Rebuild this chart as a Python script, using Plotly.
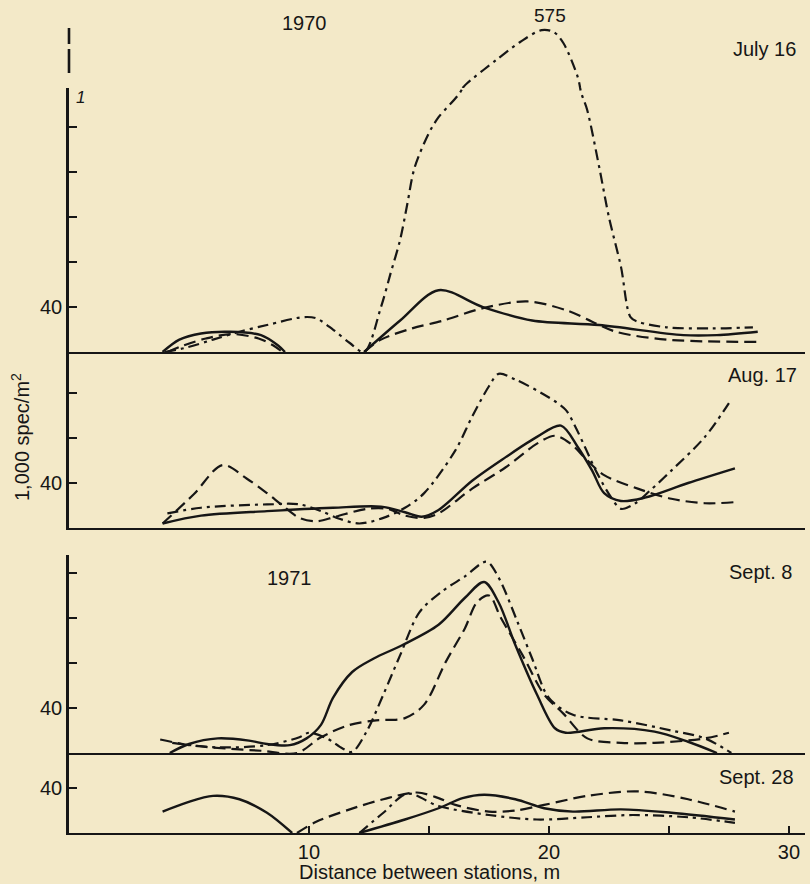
import plotly.graph_objects as go

FIG_W, FIG_H = 810, 884
PAPER = "#f3e9c8"
INK = "#161616"
FONT = "Liberation Sans, Arial, Helvetica, sans-serif"

# Distance between stations (m) against abundance (1,000 spec/m^2).
# None marks a break where a curve runs along the baseline.

# July 16, 1970
JUL16_SOLID_X = [3.9, 4.6, 5.5, 6.7, 8.0, 8.7, 9.0, None, 12.3, 13.8, 15.4, 17.25, 19.3, 22.1, 25.6, 27.0, 28.7]
JUL16_SOLID_Y = [0, 11, 16.5, 18, 15, 6, 0, None, 0, 28, 55, 40, 28, 24, 15, 15, 18]
JUL16_DASH_X = [4.1, 4.8, 5.7, 6.8, 7.9, 8.5, 8.9, None, 12.3, 13.0, 14.3, 15.6, 17.25, 19.1, 20.75, 21.8, 22.8, 24.9, 28.7]
JUL16_DASH_Y = [0, 6, 12, 16, 12, 6, 0, None, 0, 11, 21, 28, 39, 45, 37, 27, 18, 11, 9]
JUL16_DASHDOT_X = [4.0, 4.9, 6.0, 7.1, 8.25, 9.75, 10.3, 11.0, 11.7, 12.3, 13.0, 13.4, 13.8, 14.1, 14.4,
                   15.0, 15.4, 16.4, 16.6, 17.8, 18.8, 19.7, 20.2, 20.6, 21.2, 21.3, 21.6, 22.1, 22.5,
                   23.0, 23.4, 23.7, 24.9, 26.8, 28.5]
JUL16_DASHDOT_Y = [0, 4, 11, 18, 24, 31, 30, 20, 8, 0, 40, 70, 100, 132, 164,
                   195, 209, 235, 264, 399, 505, 575, 563, 499, 299, 235, 215, 164, 120,
                   76, 31, 27, 22, 21, 22]

# Aug. 17, 1970
AUG17_SOLID_X = [3.9, 5.5, 8.25, 11.0, 13.0, 14.0, 14.7, 15.4, 16.8, 18.2, 19.5, 20.5, 21.2, 21.8, 22.3, 23.0, 24.0, 25.8, 27.75]
AUG17_SOLID_Y = [4, 11, 15, 18, 19, 14, 10, 16, 42, 63, 81, 91, 72, 51, 31, 24, 27, 40, 53]
AUG17_DASH_X = [3.9, 5.2, 6.4, 7.4, 8.25, 8.9, 9.6, 10.3, 11.1, 12.4, 13.3, 14.0, 14.8, 15.4, 16.8, 18.2,
                19.5, 20.25, 20.9, 21.6, 22.3, 23.7, 25.1, 26.5, 27.75]
AUG17_DASH_Y = [4, 30, 56, 44, 31, 20, 9, 6, 10, 17, 17, 11, 9, 13, 35, 54,
                75, 82, 75, 60, 47, 35, 26, 22, 23]
AUG17_DASHDOT_X = [4.1, 5.5, 8.25, 9.6, 10.5, 11.3, 12.1, 13.1, 14.0, 14.8, 16.1, 16.8, 17.5, 17.9, 18.6,
                   20.0, 20.7, 21.1, 21.5, 22.0, 22.6, 23.0, 23.6, 24.2, 25.1, 26.5, 27.5]
AUG17_DASHDOT_Y = [13, 18, 21, 21, 15, 8, 4, 9, 18, 31, 69, 99, 126, 137, 132,
                   116, 105, 90, 72, 49, 27, 17, 22, 33, 51, 81, 111]

# Sept. 8, 1971
SEP08_SOLID_X = [4.2, 5.0, 6.2, 7.5, 8.25, 9.2, 9.9, 10.5, 11.0, 11.8, 12.7, 13.9, 15.4, 16.5, 17.3, 17.9,
                 18.6, 19.5, 20.25, 20.7, 22.3, 24.4, 25.8, 27.0]
SEP08_SOLID_Y = [0, 8, 13, 11, 8, 7, 13, 25, 49, 72, 84, 96, 114, 138, 152, 134,
                 96, 52, 22, 18, 22, 19, 10, 0]
SEP08_DASH_X = [3.8, 5.0, 6.5, 8.0, 9.5, 10.5, 11.7, 12.8, 14.0, 14.8, 15.7, 16.5, 17.0, 17.5, 18.0, 18.9,
                19.8, 20.6, 21.6, 23.0, 24.4, 26.5, 27.5]
SEP08_DASH_Y = [12, 7, 4, 2, 0, 14, 25, 29, 31, 43, 81, 111, 134, 140, 120, 87,
                52, 35, 13, 9, 9, 13, 18]
SEP08_DASHDOT_X = [4.3, 6.2, 8.25, 9.6, 10.0, 10.75, 11.4, 11.8, 12.4, 13.1, 13.8, 14.6, 15.5, 16.5, 17.4,
                   17.9, 18.7, 19.3, 20.0, 21.0, 23.0, 25.1, 26.5, 27.6]
SEP08_DASHDOT_Y = [9, 5, 7, 14, 18, 13, 4, 1, 19, 52, 87, 125, 143, 157, 170,
                   156, 116, 84, 49, 34, 29, 20, 13, 0]

# Sept. 28, 1971
SEP28_SOLID_X = [3.9, 4.9, 6.0, 7.1, 8.25, 9.3, None, 12.1, 14.0, 15.4, 16.4, 17.3, 18.6, 19.8, 21.0, 23.0, 25.1, 27.75]
SEP28_SOLID_Y = [19, 27, 33, 30, 18, 0, None, 0, 12, 22, 31, 34, 30, 22, 19, 21, 18, 12]
SEP28_DASH_X = [9.5, 10.3, 11.7, 13.1, 14.5, 15.4, 16.1, 17.5, 18.6, 19.8, 21.6, 23.7, 25.8, 27.75]
SEP28_DASH_Y = [0, 10, 21, 30, 36, 31, 25, 19, 20, 25, 33, 37, 30, 19]
SEP28_DASHDOT_X = [12.1, 13.1, 14.1, 15.4, 17.5, 19.5, 21.6, 23.5, 25.8, 27.75]
SEP28_DASHDOT_Y = [0, 18, 35, 24, 16, 12, 14, 16, 14, 9]

PANEL_LABELS = ["July 16", "Aug. 17", "Sept. 8", "Sept. 28"]
YEAR_LABELS = ["1970", "1971"]
X_MAJOR = [10, 20, 30]
X_MINOR = [15, 25]
Y_MAJOR = [40]

# July 16 axis: linear up to the break, compressed above it
BREAK_VALUE = 235
UPPER_TOP = 587

LINE_STYLES = {
    "solid": dict(dash="solid", width=2.4),
    "dash": dict(dash="12px,6px", width=2.2),
    "dashdot": dict(dash="11px,5px,3px,5px", width=2.2),
}


def px_y(p):
    return 1 - p / FIG_H


def curve(x, y, style, axis_id):
    return go.Scatter(
        x=x, y=y, mode="lines", connectgaps=False,
        line=dict(color=INK, shape="spline", smoothing=0.9, **LINE_STYLES[style]),
        xaxis="x" + axis_id, yaxis="y" + axis_id,
        hoverinfo="skip", showlegend=False,
    )


# part of the July 16 dash-dot curve lying above the scale break
above = [(x, y) for x, y in zip(JUL16_DASHDOT_X, JUL16_DASHDOT_Y) if y is not None and y >= BREAK_VALUE]
JUL16_UPPER_X = [p[0] for p in above]
JUL16_UPPER_Y = [p[1] for p in above]

fig = go.Figure()

# axis ids: "" Sept. 28, "2" Sept. 8, "3" Aug. 17, "4" July 16, "5" July 16 above the scale break
panels = [
    ("", [(SEP28_SOLID_X, SEP28_SOLID_Y, "solid"), (SEP28_DASH_X, SEP28_DASH_Y, "dash"), (SEP28_DASHDOT_X, SEP28_DASHDOT_Y, "dashdot")]),
    ("2", [(SEP08_SOLID_X, SEP08_SOLID_Y, "solid"), (SEP08_DASH_X, SEP08_DASH_Y, "dash"), (SEP08_DASHDOT_X, SEP08_DASHDOT_Y, "dashdot")]),
    ("3", [(AUG17_SOLID_X, AUG17_SOLID_Y, "solid"), (AUG17_DASH_X, AUG17_DASH_Y, "dash"), (AUG17_DASHDOT_X, AUG17_DASHDOT_Y, "dashdot")]),
    ("4", [(JUL16_SOLID_X, JUL16_SOLID_Y, "solid"), (JUL16_DASH_X, JUL16_DASH_Y, "dash"), (JUL16_DASHDOT_X, JUL16_DASHDOT_Y, "dashdot")]),
    ("5", [(JUL16_UPPER_X, JUL16_UPPER_Y, "dashdot")]),
]
for axis_id, series in panels:
    for x, y, style in series:
        fig.add_trace(curve(x, y, style, axis_id))

X_DOMAIN = [69 / FIG_W, 805 / FIG_W]
X_RANGE = [0, 30.67]
UNIT = 45 / 40  # pixels per 1,000 spec/m^2
TICKFONT = dict(family=FONT, size=20, color=INK)

# (axis id, top px, bottom px, y range top, unlabelled tick values)
layout_rows = [
    ("", 753, 833, 80 / UNIT, []),
    ("2", 555, 753, 198 / UNIT, [80, 120, 160]),
    ("3", 352, 528, 176 / UNIT, [80, 120]),
    ("4", 88, 352, BREAK_VALUE, [80, 120, 160, 200]),
]

axes = {}
for axis_id, top, bot, ytop, minor_vals in layout_rows:
    xa = dict(
        domain=X_DOMAIN, range=X_RANGE, anchor="y" + axis_id,
        showline=True, linewidth=2.2, linecolor=INK,
        showgrid=False, zeroline=False, ticks="", showticklabels=False,
        fixedrange=True,
    )
    if axis_id == "":
        xa.update(ticks="inside", ticklen=7, tickwidth=2, tickcolor=INK,
                  tickmode="array", tickvals=X_MAJOR, showticklabels=True, tickfont=TICKFONT,
                  minor=dict(tickmode="array", tickvals=X_MINOR, ticks="inside", ticklen=7,
                             tickwidth=2, tickcolor=INK, showgrid=False))
    ya = dict(
        domain=[px_y(bot), px_y(top)], range=[0, ytop],
        anchor="x" + axis_id, showline=True, linewidth=2.6, linecolor=INK,
        showgrid=False, zeroline=False, ticks="inside", ticklen=8, tickwidth=2,
        tickcolor=INK, tickmode="array", tickvals=Y_MAJOR, tickfont=TICKFONT,
        fixedrange=True,
    )
    if minor_vals:
        ya["minor"] = dict(tickmode="array", tickvals=minor_vals, ticks="inside", ticklen=8,
                           tickwidth=2, tickcolor=INK, showgrid=False)
    axes["xaxis" + axis_id] = xa
    axes["yaxis" + axis_id] = ya

axes["xaxis5"] = dict(domain=X_DOMAIN, range=X_RANGE, anchor="y5", visible=False, fixedrange=True)
axes["yaxis5"] = dict(domain=[px_y(88), px_y(28)], range=[BREAK_VALUE, UPPER_TOP],
                      anchor="x5", visible=False, fixedrange=True)

fig.update_layout(
    width=FIG_W, height=FIG_H,
    margin=dict(l=0, r=0, t=0, b=0),
    paper_bgcolor=PAPER, plot_bgcolor=PAPER,
    font=dict(family=FONT, size=20, color=INK),
    showlegend=False,
    **axes,
)

# broken stretch of the axis above the scale break
fig.add_shape(type="line", xref="x5 domain", yref="y5 domain", x0=0, x1=0, y0=1, y1=0,
              line=dict(color=INK, width=2.6, dash="16px,5px,24px,20px"))

# peak value label
peak_i = max(range(len(JUL16_DASHDOT_Y)), key=lambda i: JUL16_DASHDOT_Y[i])
fig.add_annotation(x=JUL16_DASHDOT_X[peak_i], y=JUL16_DASHDOT_Y[peak_i], xref="x5", yref="y5",
                   text=str(JUL16_DASHDOT_Y[peak_i]), showarrow=False, yanchor="bottom",
                   xshift=8, yshift=2, font=dict(size=19))


def label(text, x_px, y_px, size=20, **kw):
    fig.add_annotation(x=x_px / FIG_W, y=px_y(y_px), xref="paper", yref="paper", text=text,
                       showarrow=False, xanchor="center", yanchor="middle",
                       font=dict(family=FONT, size=size, color=INK), **kw)


label(YEAR_LABELS[0], 304, 23)
label(YEAR_LABELS[1], 289, 578)
label(PANEL_LABELS[0], 764, 49)
label(PANEL_LABELS[1], 762, 375)
label(PANEL_LABELS[2], 760, 572)
label(PANEL_LABELS[3], 756, 777)
label("<i>1</i>", 80, 97, size=17)
label("1,000 spec/m<sup>2</sup>", 20, 437, textangle=-90)
label("Distance between stations, m", 429, 872)

fig.write_html("out.html")
